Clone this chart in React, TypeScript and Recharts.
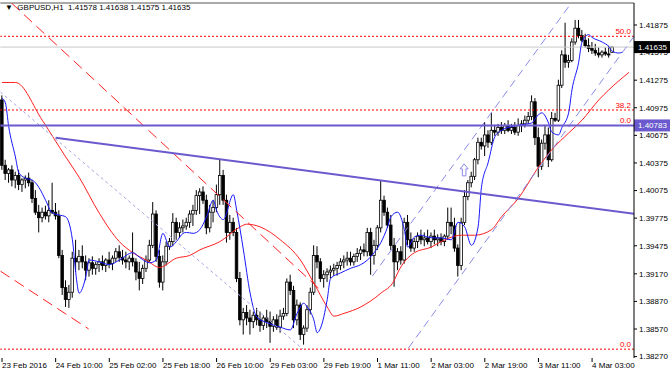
import React from "react";
import {
  ComposedChart,
  Bar,
  Line,
  XAxis,
  YAxis,
  ReferenceLine,
  ReferenceDot,
} from "recharts";

// H1 candles, [open, high, low, close], bar 0 = 23 Feb 18:00
const candles: number[][] = [
  [1.4106, 1.4111, 1.403, 1.4035], [1.4035, 1.4041, 1.4019, 1.4026], [1.4026, 1.4032, 1.4016, 1.403],
  [1.403, 1.4035, 1.4012, 1.4019], [1.4019, 1.4028, 1.401, 1.4024], [1.4024, 1.403, 1.4008, 1.4014],
  [1.4014, 1.4021, 1.4006, 1.4019], [1.4019, 1.4024, 1.401, 1.4021], [1.4021, 1.4027, 1.4012, 1.4016],
  [1.4016, 1.4019, 1.3994, 1.3999], [1.3999, 1.4008, 1.3981, 1.3984], [1.3984, 1.3992, 1.3962, 1.3978],
  [1.3978, 1.3989, 1.3973, 1.3984], [1.3984, 1.3991, 1.3976, 1.398], [1.398, 1.3997, 1.3973, 1.3986],
  [1.3986, 1.4016, 1.3982, 1.3984], [1.3984, 1.3994, 1.3976, 1.398], [1.398, 1.3986, 1.3934, 1.3937],
  [1.3937, 1.3943, 1.3894, 1.3902], [1.3902, 1.391, 1.3881, 1.3889], [1.3889, 1.3905, 1.388, 1.3897],
  [1.3897, 1.3941, 1.3891, 1.3934], [1.3934, 1.3954, 1.3919, 1.393], [1.393, 1.3943, 1.3921, 1.3936],
  [1.3936, 1.3948, 1.3923, 1.393], [1.393, 1.3937, 1.391, 1.3921], [1.3921, 1.3934, 1.3914, 1.3929],
  [1.3929, 1.3936, 1.3916, 1.3923], [1.3923, 1.393, 1.3916, 1.3927], [1.3927, 1.3934, 1.3919, 1.393],
  [1.393, 1.3937, 1.3921, 1.3926], [1.3926, 1.3934, 1.3919, 1.3932], [1.3932, 1.3941, 1.3923, 1.3928],
  [1.3928, 1.3937, 1.3921, 1.3934], [1.3934, 1.3945, 1.393, 1.3941], [1.3941, 1.3948, 1.393, 1.3935],
  [1.3935, 1.3943, 1.3927, 1.3932], [1.3932, 1.3941, 1.3923, 1.393], [1.393, 1.3937, 1.3921, 1.3934],
  [1.3934, 1.3962, 1.3925, 1.393], [1.393, 1.3934, 1.391, 1.3919], [1.3919, 1.393, 1.3899, 1.3912],
  [1.3912, 1.3927, 1.3906, 1.3923], [1.3923, 1.3937, 1.3919, 1.3932], [1.3932, 1.3954, 1.393, 1.3948],
  [1.3948, 1.3995, 1.3945, 1.3982], [1.3982, 1.3986, 1.393, 1.3936], [1.3936, 1.3943, 1.3902, 1.3908],
  [1.3908, 1.3937, 1.3899, 1.393], [1.393, 1.3952, 1.3926, 1.3947], [1.3947, 1.3956, 1.3943, 1.3952],
  [1.3952, 1.3983, 1.3947, 1.3973], [1.3973, 1.3978, 1.3954, 1.3962], [1.3962, 1.3973, 1.3956, 1.3967],
  [1.3967, 1.3976, 1.3962, 1.3969], [1.3969, 1.3978, 1.3965, 1.3973], [1.3973, 1.3986, 1.3967, 1.3982],
  [1.3982, 1.3992, 1.3969, 1.3986], [1.3986, 1.4008, 1.3981, 1.4002], [1.4002, 1.401, 1.3982, 1.4006],
  [1.4006, 1.4012, 1.3993, 1.3997], [1.3997, 1.4003, 1.396, 1.3967], [1.3967, 1.3992, 1.3962, 1.3984],
  [1.3984, 1.3997, 1.3973, 1.3989], [1.3989, 1.4014, 1.3984, 1.4003], [1.4003, 1.4041, 1.3992, 1.4024],
  [1.4024, 1.403, 1.3992, 1.3997], [1.3997, 1.4003, 1.3951, 1.3962], [1.3962, 1.3981, 1.3954, 1.3973],
  [1.3973, 1.3978, 1.3958, 1.3962], [1.3962, 1.3967, 1.3908, 1.3912], [1.3912, 1.3919, 1.3861, 1.3867],
  [1.3867, 1.388, 1.3851, 1.3875], [1.3875, 1.3883, 1.3861, 1.3869], [1.3869, 1.3878, 1.3851, 1.3865],
  [1.3865, 1.3876, 1.3858, 1.3872], [1.3872, 1.388, 1.3861, 1.3867], [1.3867, 1.3876, 1.3854, 1.3861],
  [1.3861, 1.3872, 1.3856, 1.3869], [1.3869, 1.3878, 1.3858, 1.3865], [1.3865, 1.3876, 1.3842, 1.386],
  [1.386, 1.3871, 1.3854, 1.3867], [1.3867, 1.3873, 1.3856, 1.3859], [1.3859, 1.3878, 1.3853, 1.3871],
  [1.3871, 1.388, 1.3867, 1.3874], [1.3874, 1.3912, 1.3871, 1.3908], [1.3908, 1.3916, 1.3894, 1.3899],
  [1.3899, 1.3904, 1.3858, 1.3867], [1.3867, 1.3889, 1.3861, 1.3883], [1.3883, 1.3886, 1.3845, 1.3851],
  [1.3851, 1.3861, 1.384, 1.3858], [1.3858, 1.3883, 1.3854, 1.3878], [1.3878, 1.3902, 1.3873, 1.3897],
  [1.3897, 1.3948, 1.3894, 1.3937], [1.3937, 1.3947, 1.3923, 1.393], [1.393, 1.3934, 1.3908, 1.3912],
  [1.3912, 1.3921, 1.3902, 1.3916], [1.3916, 1.3923, 1.3908, 1.3919], [1.3919, 1.3926, 1.3912, 1.3921],
  [1.3921, 1.3928, 1.3915, 1.3923], [1.3923, 1.393, 1.3915, 1.3926], [1.3926, 1.3934, 1.3921, 1.393],
  [1.393, 1.3937, 1.3923, 1.3932], [1.3932, 1.3941, 1.3926, 1.3934], [1.3934, 1.3941, 1.3926, 1.393],
  [1.393, 1.3939, 1.3926, 1.3936], [1.3936, 1.3945, 1.393, 1.3939], [1.3939, 1.3947, 1.3932, 1.3943],
  [1.3943, 1.395, 1.3936, 1.3941], [1.3941, 1.3967, 1.3936, 1.3962], [1.3962, 1.3967, 1.3916, 1.3937],
  [1.3937, 1.3954, 1.3927, 1.3948], [1.3948, 1.397, 1.3943, 1.3967], [1.3967, 1.4019, 1.3962, 1.3997],
  [1.3997, 1.4002, 1.398, 1.3984], [1.3984, 1.3989, 1.3967, 1.397], [1.397, 1.3981, 1.3943, 1.3948],
  [1.3948, 1.3956, 1.3903, 1.393], [1.393, 1.3945, 1.3921, 1.3941], [1.3941, 1.3947, 1.3927, 1.3932],
  [1.3932, 1.3978, 1.3928, 1.3973], [1.3973, 1.3981, 1.3948, 1.3954], [1.3954, 1.3962, 1.3941, 1.3945],
  [1.3945, 1.3956, 1.3941, 1.3952], [1.3952, 1.3962, 1.3945, 1.3958], [1.3958, 1.3965, 1.3949, 1.3954],
  [1.3954, 1.3962, 1.3947, 1.3956], [1.3956, 1.3965, 1.3949, 1.3952], [1.3952, 1.3962, 1.3945, 1.3958],
  [1.3958, 1.3965, 1.3949, 1.3954], [1.3954, 1.396, 1.3947, 1.3956], [1.3956, 1.3961, 1.3948, 1.3952],
  [1.3952, 1.396, 1.3947, 1.3958], [1.3958, 1.3989, 1.3954, 1.3973], [1.3973, 1.3989, 1.396, 1.3969],
  [1.3969, 1.3978, 1.3941, 1.3945], [1.3945, 1.3949, 1.3914, 1.3926], [1.3926, 1.3978, 1.3921, 1.3973],
  [1.3973, 1.4008, 1.397, 1.4001], [1.4001, 1.4019, 1.3997, 1.4016], [1.4016, 1.4028, 1.4011, 1.4023],
  [1.4023, 1.4043, 1.4019, 1.4041], [1.4041, 1.4065, 1.4036, 1.406], [1.406, 1.4065, 1.4052, 1.4056],
  [1.4056, 1.4082, 1.4045, 1.4068], [1.4068, 1.4073, 1.4054, 1.406], [1.406, 1.4092, 1.4057, 1.4073],
  [1.4073, 1.4079, 1.4067, 1.4071], [1.4071, 1.408, 1.4067, 1.4076], [1.4076, 1.4082, 1.4069, 1.4073],
  [1.4073, 1.4081, 1.4069, 1.4078], [1.4078, 1.4084, 1.4071, 1.4073], [1.4073, 1.408, 1.4069, 1.4076],
  [1.4076, 1.4082, 1.4068, 1.4071], [1.4071, 1.4086, 1.4067, 1.4078], [1.4078, 1.4084, 1.4071, 1.408],
  [1.408, 1.4089, 1.4076, 1.4084], [1.4084, 1.4093, 1.408, 1.4088], [1.4088, 1.4111, 1.4084, 1.4104],
  [1.4104, 1.4108, 1.4057, 1.4065], [1.4065, 1.4076, 1.4022, 1.4034], [1.4034, 1.4063, 1.403, 1.4059],
  [1.4059, 1.4079, 1.4052, 1.4068], [1.4068, 1.4076, 1.4033, 1.4041], [1.4041, 1.4093, 1.4039, 1.4086],
  [1.4086, 1.4092, 1.4082, 1.4084], [1.4084, 1.4128, 1.4082, 1.4122], [1.4122, 1.416, 1.4119, 1.4155],
  [1.4155, 1.419, 1.4141, 1.4147], [1.4147, 1.4155, 1.4141, 1.4149], [1.4149, 1.4173, 1.4147, 1.4169],
  [1.4169, 1.4193, 1.4166, 1.4184], [1.4184, 1.4193, 1.4173, 1.4176], [1.4176, 1.4182, 1.4169, 1.4171],
  [1.4171, 1.4178, 1.4163, 1.4165], [1.4165, 1.4173, 1.4158, 1.4162], [1.4162, 1.4169, 1.4156, 1.416],
  [1.416, 1.4167, 1.4154, 1.4157], [1.4157, 1.4163, 1.4152, 1.4155], [1.4155, 1.416, 1.4152, 1.4158],
  [1.4158, 1.4163, 1.4154, 1.4156], [1.4156, 1.4165, 1.4152, 1.4155], [1.41578, 1.41638, 1.41575, 1.41635],
];

// shifted moving averages, [bar, value]
const fastMA: number[][] = [
  [0, 1.4108], [1, 1.4103], [2, 1.4077], [4, 1.4044], [5, 1.4027], [7, 1.4021], [9, 1.4019], [11, 1.4011],
  [13, 1.3997], [15, 1.3983], [17, 1.3981], [19, 1.3979], [21, 1.3954], [22, 1.3918], [23, 1.3896],
  [25, 1.3914], [26, 1.3932], [29, 1.393], [32, 1.3927], [35, 1.3932], [39, 1.394], [41, 1.3935],
  [44, 1.3929], [46, 1.3932], [48, 1.3961], [50, 1.3946], [52, 1.3952], [54, 1.3961], [55, 1.3962],
  [57, 1.3961], [59, 1.3965], [61, 1.3979], [63, 1.3997], [64, 1.3986], [66, 1.3976], [69, 1.4003],
  [70, 1.3986], [72, 1.3943], [74, 1.3896], [76, 1.387], [79, 1.3864], [83, 1.3859], [86, 1.3856],
  [88, 1.3874], [90, 1.3885], [91, 1.3881], [93, 1.3867], [94, 1.3853], [95, 1.3858], [97, 1.3889],
  [98, 1.3912], [101, 1.3918], [104, 1.3923], [107, 1.3927], [109, 1.3932], [111, 1.394], [113, 1.3951],
  [115, 1.3968], [116, 1.3979], [118, 1.3984], [120, 1.3965], [121, 1.3946], [123, 1.3957], [125, 1.3959],
  [127, 1.3957], [129, 1.3956], [131, 1.3956], [134, 1.3954], [136, 1.3973], [138, 1.3968], [140, 1.3948],
  [142, 1.3968], [143, 1.4011], [145, 1.4038], [147, 1.4066], [149, 1.4073], [152, 1.4077], [155, 1.4079],
  [158, 1.4081], [160, 1.409], [161, 1.4092], [163, 1.4081], [164, 1.4071], [166, 1.4068], [167, 1.4076],
  [169, 1.4092], [170, 1.4117], [172, 1.4147], [173, 1.4169], [175, 1.4177], [176, 1.4174], [179, 1.4169],
  [181, 1.4164], [182, 1.4159], [184, 1.4157], [185, 1.4158],
];

const slowMA: number[][] = [
  [0, 1.4125], [4, 1.4125], [12, 1.4084], [19, 1.4044], [23, 1.4022], [29, 1.3983], [35, 1.3952],
  [39, 1.394], [43, 1.3932], [47, 1.3924], [52, 1.3934], [56, 1.3937], [59, 1.3943], [65, 1.3952],
  [71, 1.3968], [73, 1.3971], [77, 1.3968], [83, 1.3954], [89, 1.3932], [93, 1.3907], [97, 1.3881],
  [99, 1.3871], [102, 1.3874], [107, 1.3881], [113, 1.3896], [117, 1.391], [118, 1.3918], [123, 1.394],
  [128, 1.3946], [131, 1.3952], [137, 1.3959], [141, 1.3959], [146, 1.3965], [149, 1.3979], [154, 1.3999],
  [160, 1.4033], [164, 1.4052], [169, 1.407], [173, 1.4084], [178, 1.4106], [181, 1.4117], [187, 1.4136],
];

const priceTicks = [
  1.41875, 1.41575, 1.41275, 1.40975, 1.40675, 1.40375, 1.40075, 1.39775, 1.39475, 1.3917, 1.3887,
  1.3857, 1.3827,
];

const timeLabels = [
  "23 Feb 2016", "24 Feb 10:00", "25 Feb 02:00", "25 Feb 18:00", "26 Feb 10:00", "29 Feb 03:00",
  "29 Feb 19:00", "1 Mar 11:00", "2 Mar 03:00", "2 Mar 19:00", "3 Mar 11:00", "4 Mar 03:00",
];
const labelEvery = 16;

const fibLevels = [
  { name: "0.0", value: 1.38351 },
  { name: "38.2", value: 1.40951 },
  { name: "50.0", value: 1.41752 },
];
const hLine = 1.40783;

// drawn objects: [bar, price] end points
const trendLines = [
  { from: [0, 1.41147], to: [89.8, 1.38351], stroke: "#a4a4e4", width: 1, dash: "3 3" },
  { from: [3.3, 1.42114], to: [95.7, 1.3897], stroke: "#ff2020", width: 1, dash: "11 6" },
  { from: [0, 1.392], to: [26.2, 1.38571], stroke: "#ff2020", width: 1, dash: "11 6" },
  { from: [110.4, 1.39147], to: [169.4, 1.42114], stroke: "#8a8ae8", width: 1, dash: "8 5" },
  { from: [121.1, 1.38364], to: [188.5, 1.41777], stroke: "#8a8ae8", width: 1, dash: "8 5" },
  { from: [16.4, 1.4065], to: [188.5, 1.39821], stroke: "#6a5acd", width: 2, dash: undefined },
];
const arrowAt = [137.6, 1.403];

const symbol = "GBPUSD,H1";
const BARS = 189;

const rows = Array.from({ length: BARS }, (_, i) => {
  const k = candles[i];
  const f = fastMA.find((p) => p[0] === i);
  const s = slowMA.find((p) => p[0] === i);
  return {
    i,
    o: k ? k[0] : null,
    h: k ? k[1] : null,
    l: k ? k[2] : null,
    c: k ? k[3] : null,
    range: k ? [k[2], k[1]] : null,
    fast: f ? f[1] : null,
    slow: s ? s[1] : null,
  };
});

const last = candles[candles.length - 1];
const font = "'Liberation Sans', Arial, sans-serif";

const Candle = (props: any) => {
  const { x, y, width, height, payload } = props;
  if (!payload || payload.o == null) return null;
  const { o, h, l, c } = payload;
  const top = Math.min(y, y + height);
  const span = Math.abs(height);
  const k = h - l > 0 ? span / (h - l) : 0;
  const cx = x + width / 2;
  const yO = top + (h - o) * k;
  const yC = top + (h - c) * k;
  const bTop = Math.min(yO, yC);
  const bH = Math.max(Math.abs(yO - yC), 1);
  const up = c >= o;
  return (
    <g>
      <line x1={cx} x2={cx} y1={top} y2={top + Math.max(span, 1)} stroke='#000' strokeWidth={1} />
      <rect
        x={cx - 1.3}
        y={bTop}
        width={2.6}
        height={bH}
        fill={up ? "#fff" : "#000"}
        stroke='#000'
        strokeWidth={0.8}
      />
    </g>
  );
};

const TimeTick = ({ x, y, payload }: any) => (
  <text x={x} y={y + 4} fontSize={8} fontFamily={font} fill='#000' textAnchor='start'>
    {timeLabels[payload.value / labelEvery]}
  </text>
);

const axisBox = (text: string, bg: string) => (props: any) => {
  const { viewBox } = props;
  const right = viewBox.x + viewBox.width;
  const y = viewBox.y;
  return (
    <g>
      <rect x={right} y={y - 6} width={36} height={12} fill={bg} />
      <text x={right + 4} y={y + 3} fontSize={8} fontFamily={font} fill='#fff'>
        {text}
      </text>
    </g>
  );
};

const levelText = (text: string) => (props: any) => {
  const { viewBox } = props;
  return (
    <text
      x={viewBox.x + viewBox.width - 3}
      y={viewBox.y - 2}
      fontSize={8}
      fontFamily={font}
      fill='#ff0000'
      textAnchor='end'
    >
      {text}
    </text>
  );
};

const UpArrow = ({ cx, cy }: any) => (
  <path
    d={`M${cx} ${cy - 6} L${cx + 4} ${cy - 1} L${cx + 1.8} ${cy - 1} L${cx + 1.8} ${cy + 6} L${cx - 1.8} ${cy + 6} L${cx - 1.8} ${cy - 1} L${cx - 4} ${cy - 1} Z`}
    fill='#fff'
    stroke='#8a8ae8'
    strokeWidth={1}
  />
);

export default function App() {
  return (
    <div style={{ position: "fixed", left: 0, top: 0, width: 670, height: 376, background: "#fff" }}>
      <ComposedChart
        width={670}
        height={376}
        data={rows}
        margin={{ top: 3, right: 0, bottom: 0, left: 0.33 }}
      >
        <XAxis
          xAxisId='cat'
          dataKey='i'
          type='category'
          ticks={timeLabels.map((_, n) => n * labelEvery)}
          interval={0}
          height={18}
          tickSize={4}
          tickMargin={2}
          tick={<TimeTick />}
          axisLine={false}
          tickLine={{ stroke: "#000" }}
        />
        <XAxis xAxisId='num' type='number' domain={[-0.5, BARS - 0.5]} allowDataOverflow hide />
        <YAxis
          yAxisId='p'
          orientation='right'
          width={36}
          domain={[1.38255, 1.42114]}
          allowDataOverflow
          ticks={priceTicks}
          interval={0}
          tickSize={3}
          tickMargin={2}
          tickFormatter={(v: number) => v.toFixed(5)}
          tick={{ fontSize: 8, fontFamily: font, fill: "#000", textAnchor: "start" }}
          axisLine={{ stroke: "#000" }}
          tickLine={{ stroke: "#000" }}
        />

        <ReferenceLine xAxisId='cat' yAxisId='p' y={1.42114} stroke='#555' />
        <ReferenceLine xAxisId='num' yAxisId='p' x={-0.45} stroke='#999' />
        <ReferenceLine
          xAxisId='cat'
          yAxisId='p'
          y={last[3]}
          stroke='#c8c8c8'
          label={axisBox(last[3].toFixed(5), "#000")}
        />
        {fibLevels.map((f) => (
          <ReferenceLine
            key={f.name}
            xAxisId='cat'
            yAxisId='p'
            y={f.value}
            stroke='#ff0000'
            strokeDasharray='2 2'
            label={levelText(f.name)}
          />
        ))}

        <Bar
          xAxisId='cat'
          yAxisId='p'
          dataKey='range'
          barSize={3}
          shape={<Candle />}
          isAnimationActive={false}
        />
        <Line
          xAxisId='cat'
          yAxisId='p'
          dataKey='slow'
          type='monotone'
          stroke='#ff2020'
          strokeWidth={1}
          dot={false}
          connectNulls
          isAnimationActive={false}
        />
        <Line
          xAxisId='cat'
          yAxisId='p'
          dataKey='fast'
          type='monotone'
          stroke='#1818ff'
          strokeWidth={1}
          dot={false}
          connectNulls
          isAnimationActive={false}
        />

        {trendLines.map((t, n) => (
          <ReferenceLine
            key={n}
            xAxisId='num'
            yAxisId='p'
            segment={[
              { x: t.from[0], y: t.from[1] },
              { x: t.to[0], y: t.to[1] },
            ]}
            stroke={t.stroke}
            strokeWidth={t.width}
            strokeDasharray={t.dash}
            ifOverflow='hidden'
          />
        ))}
        <ReferenceLine
          xAxisId='cat'
          yAxisId='p'
          y={hLine}
          stroke='#6a5acd'
          strokeWidth={2}
          label={(p: any) => (
            <g>
              {levelText("0.0")(p)}
              {axisBox(hLine.toFixed(5), "#6a5acd")(p)}
            </g>
          )}
        />
        <ReferenceDot
          xAxisId='num'
          yAxisId='p'
          x={arrowAt[0]}
          y={arrowAt[1]}
          shape={<UpArrow />}
        />
      </ComposedChart>
      <div
        style={{
          position: "absolute",
          left: 5,
          top: 3,
          fontSize: 8,
          lineHeight: "9px",
          fontFamily: font,
          color: "#000",
          whiteSpace: "pre",
        }}
      >
        {"\u25BC  " + symbol + "  " + last.map((v) => v.toFixed(5)).join(" ")}
      </div>
    </div>
  );
}
